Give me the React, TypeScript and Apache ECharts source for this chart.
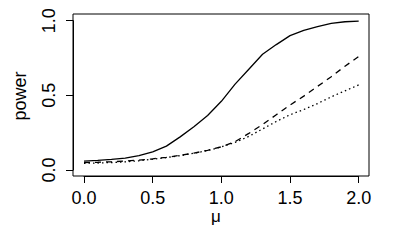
import React, { useEffect, useRef } from "react";
import * as echarts from "echarts";

const muValues = [0.0, 0.1, 0.2, 0.3, 0.4, 0.5, 0.6, 0.7, 0.8, 0.9, 1.0, 1.1, 1.2, 1.3, 1.4, 1.5, 1.6, 1.7, 1.8, 1.9, 2.0];
const powerSolid = [0.060, 0.065, 0.071, 0.080, 0.096, 0.122, 0.160, 0.222, 0.290, 0.365, 0.460, 0.575, 0.675, 0.775, 0.840, 0.900, 0.935, 0.960, 0.982, 0.993, 0.997];
const powerDashed = [0.050, 0.052, 0.055, 0.060, 0.066, 0.075, 0.085, 0.098, 0.113, 0.132, 0.155, 0.190, 0.245, 0.305, 0.370, 0.435, 0.495, 0.560, 0.625, 0.695, 0.760];
const powerDotted = [0.045, 0.047, 0.050, 0.055, 0.062, 0.072, 0.083, 0.096, 0.112, 0.130, 0.155, 0.185, 0.225, 0.275, 0.325, 0.370, 0.405, 0.445, 0.490, 0.530, 0.570];

const xLabel = "μ";
const yLabel = "power";

const FONT = "'Liberation Sans', Arial, Helvetica, sans-serif";

function pairs(ys: number[]) {
  return muValues.map((x, i) => [x, ys[i]]);
}

export default function App() {
  const ref = useRef<HTMLDivElement>(null);
  useEffect(() => {
    if (!ref.current) return;
    const chart = echarts.init(ref.current, undefined, { renderer: "svg" });
    const axisCommon = {
      axisLine: { show: true, onZero: false, lineStyle: { color: "#000", width: 1 } },
      axisTick: { show: true, length: 7, inside: false, lineStyle: { color: "#000", width: 1 } },
      splitLine: { show: false },
    };
    const lineBase = { type: "line" as const, showSymbol: false, symbol: "none", smooth: false, silent: true };
    chart.setOption({
      animation: false,
      grid: { left: 84, right: 41.3, top: 20.7, bottom: 80, containLabel: false },
      xAxis: {
        type: "value",
        min: 0,
        max: 2,
        interval: 0.5,
        offset: 6,
        ...axisCommon,
        axisLabel: {
          color: "#000",
          fontSize: 18,
          lineHeight: 16,
          fontFamily: FONT,
          margin: 14,
          formatter: (v: number) => v.toFixed(1),
        },
      },
      yAxis: {
        type: "value",
        min: 0,
        max: 1,
        interval: 0.5,
        offset: 11,
        ...axisCommon,
        axisLabel: {
          color: "#000",
          fontSize: 18,
          fontFamily: FONT,
          rotate: 90,
          margin: 15,
          formatter: (v: number) => v.toFixed(1),
        },
      },
      graphic: [
        {
          type: "rect",
          shape: { x: 73, y: 14, width: 296, height: 162 },
          style: { fill: "none", stroke: "#000", lineWidth: 1 },
          silent: true,
        },
        {
          type: "text",
          x: 216,
          y: 216,
          style: {
            text: xLabel,
            fill: "#000",
            font: `17px ${FONT}`,
            lineHeight: 14,
            align: "center",
            verticalAlign: "middle",
          },
        },
        {
          type: "text",
          x: 20,
          y: 96,
          rotation: Math.PI / 2,
          style: {
            text: yLabel,
            fill: "#000",
            font: `18px ${FONT}`,
            align: "center",
            verticalAlign: "middle",
          },
        },
      ],
      series: [
        { ...lineBase, name: "solid", data: pairs(powerSolid), lineStyle: { color: "#000", width: 1.3, type: "solid" } },
        { ...lineBase, name: "dashed", data: pairs(powerDashed), lineStyle: { color: "#000", width: 1.3, type: [6, 5] } },
        { ...lineBase, name: "dotted", data: pairs(powerDotted), lineStyle: { color: "#000", width: 1.3, type: [1.5, 3] } },
      ],
    });
    return () => chart.dispose();
  }, []);
  return <div ref={ref} style={{ position: "fixed", left: 0, top: 0, width: 400, height: 250, background: "#fff" }} />;
}
